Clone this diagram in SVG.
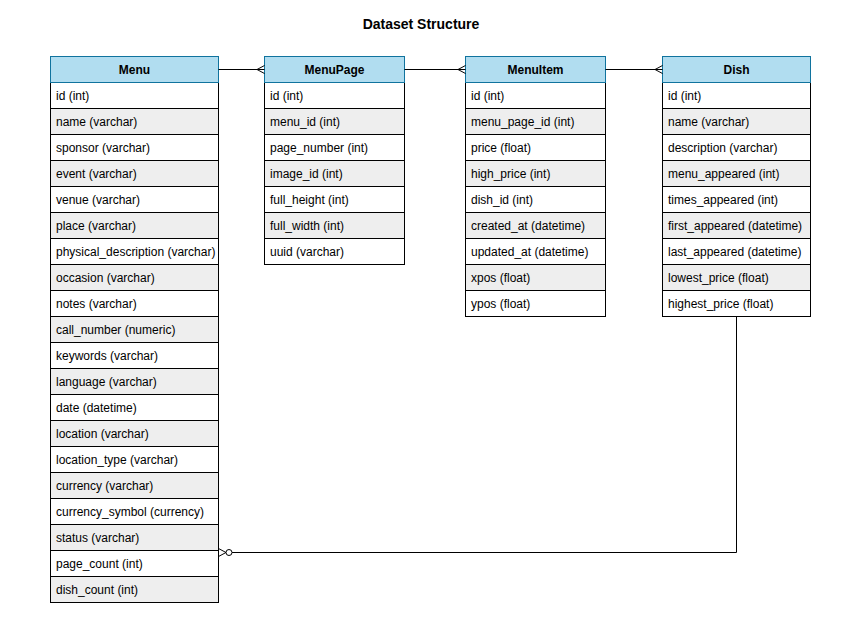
<svg xmlns="http://www.w3.org/2000/svg" width="842" height="640" viewBox="0 0 842 640">
<style>
text{font-family:"Liberation Sans",Arial,sans-serif;font-size:12px;fill:#000}
.t{font-weight:bold;text-anchor:middle}
.title{font-size:14px;font-weight:bold;text-anchor:middle}
.h{fill:#b1ddf0;stroke:#10739e;stroke-width:1}
.w{fill:#ffffff;stroke:#000;stroke-width:1}
.g{fill:#eeeeee;stroke:#000;stroke-width:1}
.c{fill:none;stroke:#000;stroke-width:1}
</style>
<rect width="842" height="640" fill="#fff"/>
<text class="title" x="421" y="29">Dataset Structure</text>

<g id="Menu">
<rect class="w" x="50.5" y="82.5" width="168" height="26"/><text x="56" y="100">id (int)</text>
<rect class="g" x="50.5" y="108.5" width="168" height="26"/><text x="56" y="126">name (varchar)</text>
<rect class="w" x="50.5" y="134.5" width="168" height="26"/><text x="56" y="152">sponsor (varchar)</text>
<rect class="g" x="50.5" y="160.5" width="168" height="26"/><text x="56" y="178">event (varchar)</text>
<rect class="w" x="50.5" y="186.5" width="168" height="26"/><text x="56" y="204">venue (varchar)</text>
<rect class="g" x="50.5" y="212.5" width="168" height="26"/><text x="56" y="230">place (varchar)</text>
<rect class="w" x="50.5" y="238.5" width="168" height="26"/><text x="56" y="256">physical_description (varchar)</text>
<rect class="g" x="50.5" y="264.5" width="168" height="26"/><text x="56" y="282">occasion (varchar)</text>
<rect class="w" x="50.5" y="290.5" width="168" height="26"/><text x="56" y="308">notes (varchar)</text>
<rect class="g" x="50.5" y="316.5" width="168" height="26"/><text x="56" y="334">call_number (numeric)</text>
<rect class="w" x="50.5" y="342.5" width="168" height="26"/><text x="56" y="360">keywords (varchar)</text>
<rect class="g" x="50.5" y="368.5" width="168" height="26"/><text x="56" y="386">language (varchar)</text>
<rect class="w" x="50.5" y="394.5" width="168" height="26"/><text x="56" y="412">date (datetime)</text>
<rect class="g" x="50.5" y="420.5" width="168" height="26"/><text x="56" y="438">location (varchar)</text>
<rect class="w" x="50.5" y="446.5" width="168" height="26"/><text x="56" y="464">location_type (varchar)</text>
<rect class="g" x="50.5" y="472.5" width="168" height="26"/><text x="56" y="490">currency (varchar)</text>
<rect class="w" x="50.5" y="498.5" width="168" height="26"/><text x="56" y="516">currency_symbol (currency)</text>
<rect class="g" x="50.5" y="524.5" width="168" height="26"/><text x="56" y="542">status (varchar)</text>
<rect class="w" x="50.5" y="550.5" width="168" height="26"/><text x="56" y="568">page_count (int)</text>
<rect class="g" x="50.5" y="576.5" width="168" height="26"/><text x="56" y="594">dish_count (int)</text>
<rect class="h" x="50.5" y="56.5" width="168" height="26"/><text class="t" x="134.5" y="74">Menu</text>
</g>

<g id="MenuPage">
<rect class="w" x="264.5" y="82.5" width="140" height="26"/><text x="270" y="100">id (int)</text>
<rect class="g" x="264.5" y="108.5" width="140" height="26"/><text x="270" y="126">menu_id (int)</text>
<rect class="w" x="264.5" y="134.5" width="140" height="26"/><text x="270" y="152">page_number (int)</text>
<rect class="g" x="264.5" y="160.5" width="140" height="26"/><text x="270" y="178">image_id (int)</text>
<rect class="w" x="264.5" y="186.5" width="140" height="26"/><text x="270" y="204">full_height (int)</text>
<rect class="g" x="264.5" y="212.5" width="140" height="26"/><text x="270" y="230">full_width (int)</text>
<rect class="w" x="264.5" y="238.5" width="140" height="26"/><text x="270" y="256">uuid (varchar)</text>
<rect class="h" x="264.5" y="56.5" width="140" height="26"/><text class="t" x="334.5" y="74">MenuPage</text>
</g>

<g id="MenuItem">
<rect class="w" x="465.5" y="82.5" width="140" height="26"/><text x="471" y="100">id (int)</text>
<rect class="g" x="465.5" y="108.5" width="140" height="26"/><text x="471" y="126">menu_page_id (int)</text>
<rect class="w" x="465.5" y="134.5" width="140" height="26"/><text x="471" y="152">price (float)</text>
<rect class="g" x="465.5" y="160.5" width="140" height="26"/><text x="471" y="178">high_price (int)</text>
<rect class="w" x="465.5" y="186.5" width="140" height="26"/><text x="471" y="204">dish_id (int)</text>
<rect class="g" x="465.5" y="212.5" width="140" height="26"/><text x="471" y="230">created_at (datetime)</text>
<rect class="w" x="465.5" y="238.5" width="140" height="26"/><text x="471" y="256">updated_at (datetime)</text>
<rect class="g" x="465.5" y="264.5" width="140" height="26"/><text x="471" y="282">xpos (float)</text>
<rect class="w" x="465.5" y="290.5" width="140" height="26"/><text x="471" y="308">ypos (float)</text>
<rect class="h" x="465.5" y="56.5" width="140" height="26"/><text class="t" x="535.5" y="74">MenuItem</text>
</g>

<g id="Dish">
<rect class="w" x="662.5" y="82.5" width="148" height="26"/><text x="668" y="100">id (int)</text>
<rect class="g" x="662.5" y="108.5" width="148" height="26"/><text x="668" y="126">name (varchar)</text>
<rect class="w" x="662.5" y="134.5" width="148" height="26"/><text x="668" y="152">description (varchar)</text>
<rect class="g" x="662.5" y="160.5" width="148" height="26"/><text x="668" y="178">menu_appeared (int)</text>
<rect class="w" x="662.5" y="186.5" width="148" height="26"/><text x="668" y="204">times_appeared (int)</text>
<rect class="g" x="662.5" y="212.5" width="148" height="26"/><text x="668" y="230">first_appeared (datetime)</text>
<rect class="w" x="662.5" y="238.5" width="148" height="26"/><text x="668" y="256">last_appeared (datetime)</text>
<rect class="g" x="662.5" y="264.5" width="148" height="26"/><text x="668" y="282">lowest_price (float)</text>
<rect class="w" x="662.5" y="290.5" width="148" height="26"/><text x="668" y="308">highest_price (float)</text>
<rect class="h" x="662.5" y="56.5" width="148" height="26"/><text class="t" x="736.5" y="74">Dish</text>
</g>

<g id="connectors">
<path class="c" d="M218.5 69.5 H264.5 M264.5 65.5 L257 69.5 L264.5 73.5"/>
<path class="c" d="M404.5 69.5 H465.5 M465.5 65.5 L458 69.5 L465.5 73.5"/>
<path class="c" d="M605.5 69.5 H662.5 M662.5 65.5 L655 69.5 L662.5 73.5"/>
<path class="c" stroke="#333" d="M736.5 316.5 V552.5 H232"/>
<path class="c" d="M218.5 548.5 L226 552.5 L218.5 556.5"/>
<circle cx="229" cy="552.5" r="3" fill="#fff" stroke="#000"/>
</g>
</svg>
